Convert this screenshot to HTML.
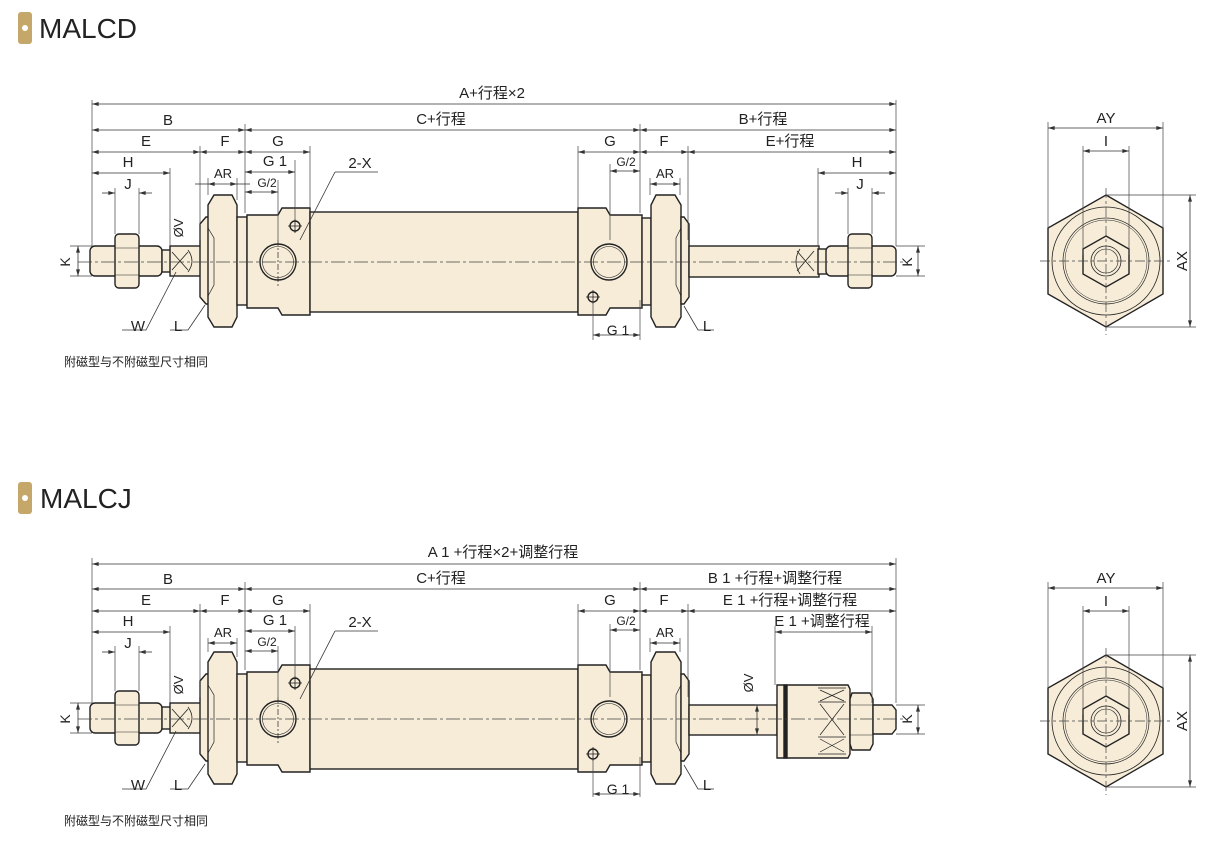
<!DOCTYPE html>
<html><head><meta charset="utf-8">
<style>
html,body{margin:0;padding:0;background:#fff;}
svg{display:block;}
text{font-family:"Liberation Sans","Noto Sans CJK SC",sans-serif;fill:#222;}
</style></head><body>
<svg width="1224" height="841" viewBox="0 0 1224 841" xmlns="http://www.w3.org/2000/svg">
<defs>
<marker id="a" viewBox="0 0 10 6" refX="10" refY="3" markerWidth="7" markerHeight="4" orient="auto-start-reverse" markerUnits="userSpaceOnUse"><path d="M0,0 L10,3 L0,6 z" fill="#333"/></marker>

<g id="left" stroke="#222" stroke-width="1.4" fill="#f6ecd8">
  <rect x="90" y="246" width="72" height="30" rx="5"/>
  <rect x="115" y="234" width="24" height="54" rx="4"/>
  <line x1="115" y1="248" x2="139" y2="248" stroke-width="0.6"/>
  <line x1="115" y1="275" x2="139" y2="275" stroke-width="0.6"/>
  <rect x="162" y="250" width="10" height="22"/>
  <rect x="170" y="246" width="36" height="30"/>
  <path d="M172,252 L188,270 M188,252 L172,270" stroke-width="0.8" fill="none"/>
  <path d="M188,250 Q196,261 188,272" fill="none" stroke-width="0.8"/>
  <path d="M200,224 L206,217 L210,217 L210,304 L206,304 L200,297 z"/>
  <path d="M214,195 L232,195 L237,205 L237,317 L232,327 L214,327 L208,317 L208,205 z"/>
  <path d="M208,228 L214,238 L214,285 L208,296" fill="none" stroke-width="0.7"/>
  <rect x="237" y="217" width="10" height="88"/>
  <path d="M247,215 L278,215 L282,208 L310,208 L310,315 L282,315 L278,308 L247,308 z"/>
  <rect x="310" y="212" width="268" height="100"/>
  <circle cx="278" cy="262" r="18"/>
  <circle cx="278" cy="262" r="15.5" fill="none" stroke-width="0.6"/>
  <circle cx="295" cy="226" r="5"/>
  <path d="M288,226 H302 M295,219 V233" stroke-width="0.8"/>
  <line x1="278" y1="240" x2="278" y2="288" stroke-width="0.7" stroke-dasharray="6,2,2,2"/>
</g>
<g id="rear" stroke="#222" stroke-width="1.4" fill="#f6ecd8">
  <path d="M578,208 L606,208 L610,215 L642,215 L642,308 L610,308 L606,315 L578,315 z"/>
  <circle cx="609" cy="262" r="18"/>
  <circle cx="609" cy="262" r="15.5" fill="none" stroke-width="0.6"/>
  <circle cx="593" cy="297" r="5"/>
  <path d="M586,297 H600 M593,290 V304" stroke-width="0.8"/>
  <rect x="642" y="218" width="9" height="87"/>
  <path d="M656,195 L675,195 L681,205 L681,317 L675,327 L656,327 L651,317 L651,205 z"/>
  <path d="M681,228 L676,238 L676,285 L681,296" fill="none" stroke-width="0.7"/>
  <path d="M681,217 L684,217 L689,224 L689,297 L684,304 L681,304 z"/>
</g>
<g id="side">
<g stroke="#222" stroke-width="1.4" fill="#f6ecd8">
  <path d="M1106,195 L1163,228 L1163,294 L1106,327 L1048,294 L1048,228 z"/>
  <circle cx="1106" cy="261" r="54" fill="none" stroke-width="0.8"/>
  <circle cx="1106" cy="261" r="43" fill="none" stroke-width="0.7"/>
  <circle cx="1106" cy="261" r="41" fill="none" stroke-width="0.5"/>
  <path d="M1106,236 L1129,249 L1129,274 L1106,287 L1083,274 L1083,249 z"/>
  <circle cx="1106" cy="261" r="15" fill="none" stroke-width="0.8"/>
  <circle cx="1106" cy="261" r="12" fill="none" stroke-width="0.6"/>
</g>
<g stroke="#444" stroke-width="0.7" fill="none">
  <line x1="1040" y1="261" x2="1172" y2="261" stroke-dasharray="10,3,3,3"/>
  <line x1="1106" y1="188" x2="1106" y2="335" stroke-dasharray="10,3,3,3"/>
  <path d="M1048,122 V228 M1163,122 V228 M1083,146 V255 M1129,146 V255 M1106,195 H1196 M1106,327 H1196"/>
</g>
<g stroke="#333" stroke-width="0.8" marker-start="url(#a)" marker-end="url(#a)">
  <line x1="1048" y1="128" x2="1163" y2="128"/>
  <line x1="1083" y1="151" x2="1129" y2="151"/>
  <line x1="1190" y1="195" x2="1190" y2="327"/>
</g>
<g font-size="15" text-anchor="middle">
  <text x="1106" y="123">AY</text>
  <text x="1106" y="146">I</text>
  <text transform="translate(1187,261) rotate(-90)">AX</text>
</g>
</g>
</defs>

<rect x="18" y="12" width="14" height="32" rx="3" fill="#c6a76a"/>
<circle cx="25" cy="28" r="3" fill="#fff"/>
<text x="39" y="38" font-size="28" fill="#222">MALCD</text>
<rect x="18" y="482" width="14" height="32" rx="3" fill="#c6a76a"/>
<circle cx="25" cy="498" r="3" fill="#fff"/>
<text x="40" y="508" font-size="28" fill="#222">MALCJ</text>

<!-- TOP -->
<use href="#left"/>
<use href="#rear"/>
<g stroke="#222" stroke-width="1.4" fill="#f6ecd8">
  <rect x="689" y="246" width="130" height="31"/>
  <path d="M797,251 L814,271 M814,251 L797,271" stroke-width="0.8"/>
  <path d="M800,249 Q792,261 800,274" fill="none" stroke-width="0.8"/>
  <rect x="818" y="249" width="9" height="25"/>
  <rect x="826" y="246" width="70" height="30" rx="5"/>
  <rect x="848" y="234" width="24" height="54" rx="4"/>
  <line x1="848" y1="248" x2="872" y2="248" stroke-width="0.6"/>
  <line x1="848" y1="275" x2="872" y2="275" stroke-width="0.6"/>
</g>
<line x1="78" y1="262" x2="905" y2="262" stroke="#444" stroke-width="0.7" stroke-dasharray="14,3,3,3"/>

<g stroke="#444" stroke-width="0.7" fill="none">
  <path d="M92,100 V246 M896,100 V246 M245,124 V213 M640,124 V213 M200,146 V240 M688,146 V240 M310,146 V208 M578,146 V208 M295,160 V220 M278,180 V240 M610,164 V240 M208,178 V195 M237,178 V200 M650,178 V195 M680,178 V195 M170,168 V246 M818,168 V246 M115,188 V234 M139,188 V234 M848,188 V234 M872,188 V234 M593,300 V340 M640,300 V340"/>
  <path d="M70,246 H92 M70,276 H92 M896,246 H925 M896,276 H925"/>
</g>
<g stroke="#333" stroke-width="0.8" marker-start="url(#a)" marker-end="url(#a)">
  <line x1="92" y1="104" x2="896" y2="104"/>
  <line x1="92" y1="130" x2="245" y2="130"/>
  <line x1="245" y1="130" x2="640" y2="130"/>
  <line x1="640" y1="130" x2="896" y2="130"/>
  <line x1="92" y1="152" x2="200" y2="152"/>
  <line x1="200" y1="152" x2="245" y2="152"/>
  <line x1="245" y1="152" x2="310" y2="152"/>
  <line x1="578" y1="152" x2="640" y2="152"/>
  <line x1="640" y1="152" x2="688" y2="152"/>
  <line x1="688" y1="152" x2="896" y2="152"/>
  <line x1="245" y1="172" x2="295" y2="172"/>
  <line x1="245" y1="192" x2="278" y2="192"/>
  <line x1="610" y1="171" x2="640" y2="171"/>
  <line x1="92" y1="173" x2="170" y2="173"/>
  <line x1="818" y1="173" x2="896" y2="173"/>
  <line x1="208" y1="184" x2="237" y2="184"/>
  <line x1="650" y1="184" x2="680" y2="184"/>
  <line x1="593" y1="335" x2="640" y2="335"/>
  <line x1="78" y1="246" x2="78" y2="276"/>
  <line x1="918" y1="246" x2="918" y2="276"/>
</g>
<g stroke="#333" stroke-width="0.8" marker-end="url(#a)">
  <line x1="102" y1="193" x2="115" y2="193"/>
  <line x1="152" y1="193" x2="139" y2="193"/>
  <line x1="835" y1="193" x2="848" y2="193"/>
  <line x1="885" y1="193" x2="872" y2="193"/>
  <line x1="195" y1="184" x2="208" y2="184" marker-end="none"/>
  <line x1="237" y1="184" x2="250" y2="184" marker-end="none"/>
</g>
<g stroke="#333" stroke-width="0.8" fill="none">
  <path d="M335,172 H378 M335,172 L300,240"/>
  <path d="M122,330 H146 L176,272"/>
  <path d="M170,330 H188 L205,305"/>
  <path d="M714,330 H698 L684,306"/>
</g>
<g font-size="15" text-anchor="middle">
  <text x="492" y="98">A+行程×2</text>
  <text x="168" y="125">B</text>
  <text x="441" y="124">C+行程</text>
  <text x="763" y="124">B+行程</text>
  <text x="146" y="146">E</text>
  <text x="225" y="146">F</text>
  <text x="278" y="146">G</text>
  <text x="610" y="146">G</text>
  <text x="664" y="146">F</text>
  <text x="790" y="146">E+行程</text>
  <text x="128" y="167">H</text>
  <text x="857" y="167">H</text>
  <text x="128" y="189">J</text>
  <text x="860" y="189">J</text>
  <text x="275" y="166">G 1</text>
  <text x="618" y="335" font-size="14">G 1</text>
  <text x="360" y="168">2-X</text>
  <text x="138" y="331">W</text>
  <text x="178" y="331">L</text>
  <text x="707" y="331">L</text>
  <text x="223" y="178" font-size="13">AR</text>
  <text x="665" y="178" font-size="13">AR</text>
  <text x="267" y="187" font-size="12">G/2</text>
  <text x="626" y="166" font-size="12">G/2</text>
  <text transform="translate(70,262) rotate(-90)" font-size="14">K</text>
  <text transform="translate(912,262) rotate(-90)" font-size="14">K</text>
  <text transform="translate(183,228) rotate(-90)" font-size="13">ØV</text>
</g>
<text x="64" y="366" font-size="12">附磁型与不附磁型尺寸相同</text>

<use href="#side"/>

<!-- BOTTOM -->
<g transform="translate(0,457)">
<use href="#left"/>
<use href="#rear"/>
<g stroke="#222" stroke-width="1.4" fill="#f6ecd8">
  <rect x="689" y="248" width="88" height="30"/>
  <path d="M777,228 L848,228 L850,232 L850,297 L848,301 L777,301 z"/>
  <rect x="784" y="228" width="3" height="73" fill="#222"/>
  <path d="M818,231 L846,231 M818,245 L846,245 M818,280 L846,280 M818,297 L846,297" stroke-width="0.8" fill="none"/>
  <path d="M820,233 L844,244 M844,233 L820,244 M820,247 L844,278 M844,247 L820,278 M820,282 L844,295 M844,282 L820,295" stroke-width="0.7" fill="none"/>
  <path d="M852,236 L870,236 L873,242 L873,287 L870,293 L852,293 L850,287 L850,242 z"/>
  <line x1="850" y1="248" x2="873" y2="248" stroke-width="0.6"/>
  <line x1="850" y1="278" x2="873" y2="278" stroke-width="0.6"/>
  <path d="M873,248 L892,248 L896,253 L896,272 L892,277 L873,277 z"/>
</g>
<line x1="78" y1="262" x2="905" y2="262" stroke="#444" stroke-width="0.7" stroke-dasharray="14,3,3,3"/>
</g>

<g stroke="#444" stroke-width="0.7" fill="none">
  <path d="M92,558 V703 M896,558 V703 M245,582 V670 M640,582 V670 M200,604 V697 M688,604 V697 M310,604 V665 M578,604 V665 M295,626 V677 M278,646 V697 M610,624 V697 M208,638 V652 M237,638 V657 M650,638 V652 M680,638 V652 M170,626 V703 M115,646 V691 M139,646 V691 M775,626 V685 M872,626 V703 M593,757 V797 M640,757 V797"/>
  <path d="M70,703 H92 M70,733 H92 M896,705 H925 M896,734 H925 M755,705 H775 M755,735 H775"/>
</g>
<g stroke="#333" stroke-width="0.8" marker-start="url(#a)" marker-end="url(#a)">
  <line x1="92" y1="564" x2="896" y2="564"/>
  <line x1="92" y1="589" x2="245" y2="589"/>
  <line x1="245" y1="589" x2="640" y2="589"/>
  <line x1="640" y1="589" x2="896" y2="589"/>
  <line x1="92" y1="611" x2="200" y2="611"/>
  <line x1="200" y1="611" x2="245" y2="611"/>
  <line x1="245" y1="611" x2="310" y2="611"/>
  <line x1="578" y1="611" x2="640" y2="611"/>
  <line x1="640" y1="611" x2="688" y2="611"/>
  <line x1="688" y1="611" x2="896" y2="611"/>
  <line x1="245" y1="631" x2="295" y2="631"/>
  <line x1="245" y1="651" x2="278" y2="651"/>
  <line x1="610" y1="630" x2="640" y2="630"/>
  <line x1="92" y1="632" x2="170" y2="632"/>
  <line x1="775" y1="632" x2="872" y2="632"/>
  <line x1="208" y1="643" x2="237" y2="643"/>
  <line x1="650" y1="643" x2="680" y2="643"/>
  <line x1="593" y1="794" x2="640" y2="794"/>
  <line x1="78" y1="703" x2="78" y2="733"/>
  <line x1="918" y1="705" x2="918" y2="734"/>
  <line x1="757" y1="705" x2="757" y2="735"/>
</g>
<g stroke="#333" stroke-width="0.8" marker-end="url(#a)">
  <line x1="102" y1="652" x2="115" y2="652"/>
  <line x1="152" y1="652" x2="139" y2="652"/>
</g>
<g stroke="#333" stroke-width="0.8" fill="none">
  <path d="M335,631 H378 M335,631 L300,699"/>
  <path d="M122,789 H146 L176,731"/>
  <path d="M170,789 H188 L205,764"/>
  <path d="M714,789 H698 L684,765"/>
</g>
<g font-size="15" text-anchor="middle">
  <text x="503" y="557">A 1 +行程×2+调整行程</text>
  <text x="168" y="584">B</text>
  <text x="441" y="583">C+行程</text>
  <text x="775" y="583">B 1 +行程+调整行程</text>
  <text x="146" y="605">E</text>
  <text x="225" y="605">F</text>
  <text x="278" y="605">G</text>
  <text x="610" y="605">G</text>
  <text x="664" y="605">F</text>
  <text x="790" y="605">E 1 +行程+调整行程</text>
  <text x="128" y="626">H</text>
  <text x="128" y="648">J</text>
  <text x="822" y="626">E 1 +调整行程</text>
  <text x="275" y="625">G 1</text>
  <text x="618" y="794" font-size="14">G 1</text>
  <text x="360" y="627">2-X</text>
  <text x="138" y="790">W</text>
  <text x="178" y="790">L</text>
  <text x="707" y="790">L</text>
  <text x="223" y="637" font-size="13">AR</text>
  <text x="665" y="637" font-size="13">AR</text>
  <text x="267" y="646" font-size="12">G/2</text>
  <text x="626" y="625" font-size="12">G/2</text>
  <text transform="translate(70,719) rotate(-90)" font-size="14">K</text>
  <text transform="translate(912,719) rotate(-90)" font-size="14">K</text>
  <text transform="translate(183,685) rotate(-90)" font-size="13">ØV</text>
  <text transform="translate(753,683) rotate(-90)" font-size="13">ØV</text>
</g>
<text x="64" y="825" font-size="12">附磁型与不附磁型尺寸相同</text>

<g transform="translate(0,460)"><use href="#side"/></g>
</svg>
</body></html>
